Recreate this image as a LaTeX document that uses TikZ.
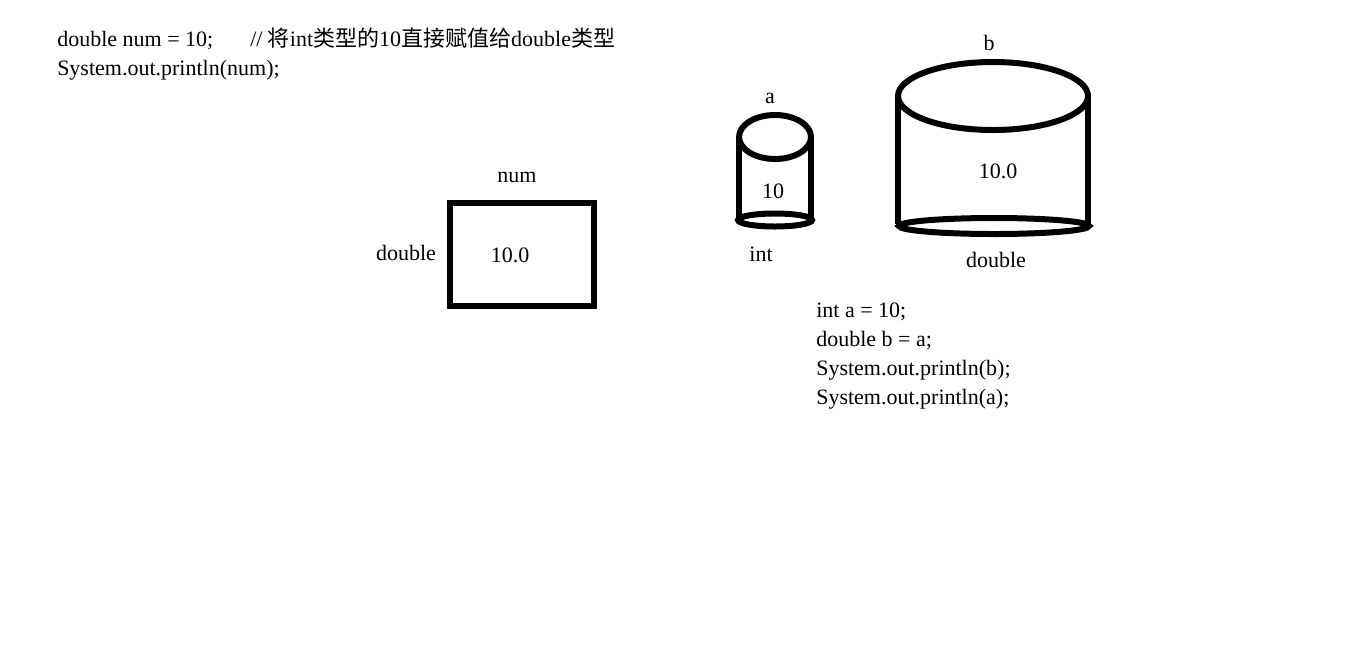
\documentclass[tikz,border=0pt]{standalone}
\usepackage{fontspec}
\setmainfont{Liberation Serif}
\newfontfamily\cjk{Noto Sans CJK SC}
\begin{document}
\begin{tikzpicture}[x=0.75pt,y=-0.75pt,
	txt/.style={inner sep=0pt,font=\fontsize{16.5}{19}\selectfont},
	code/.style={txt,anchor=base west},
	wall/.style={line width=4.5pt}]
\useasboundingbox (0,0) rectangle (1360,669);
% code at the top left
\node[code] (numline) at (57,46) {double num = 10;};
\node[code] (comment) at (250,46) {// {\cjk 将}int{\cjk 类型的}10{\cjk 直接赋值给}double{\cjk 类型}};
\node[code] (printnum) at (57,75) {System.out.println(num);};
% the box num
\draw[wall] (449.5,202.5) rectangle (593.5,305.5);
\node[txt] (numname) at (517,177) {num};
\node[txt] (numtype) at (406,253) {double};
\node[txt] (numval) at (510,255) {10.0};
% the cylinder a
\draw[wall] (775,137) ellipse (36 and 22);
\draw[wall] (739,137) -- (739,220);
\draw[wall] (811,137) -- (811,220);
\draw[wall] (775,220) ellipse (37 and 6.5);
\node[txt] (aname) at (770,98) {a};
\node[txt] (aval) at (773,191) {10};
\node[txt] (atype) at (761,254) {int};
% the cylinder b
\draw[wall] (993,96) ellipse (95 and 34);
\draw[wall] (898,96) -- (898,224);
\draw[wall] (1088,96) -- (1088,228);
\draw[wall] (994,226) ellipse (95 and 8);
\node[txt] (bname) at (989,43) {b};
\node[txt] (bval) at (998,171) {10.0};
\node[txt] (btype) at (996,260) {double};
% code at the right
\node[code] (aline) at (816,317) {int a = 10;};
\node[code] (bline) at (816,346) {double b = a;};
\node[code] (printb) at (816,375) {System.out.println(b);};
\node[code] (printa) at (816,404) {System.out.println(a);};
\end{tikzpicture}
\end{document}
